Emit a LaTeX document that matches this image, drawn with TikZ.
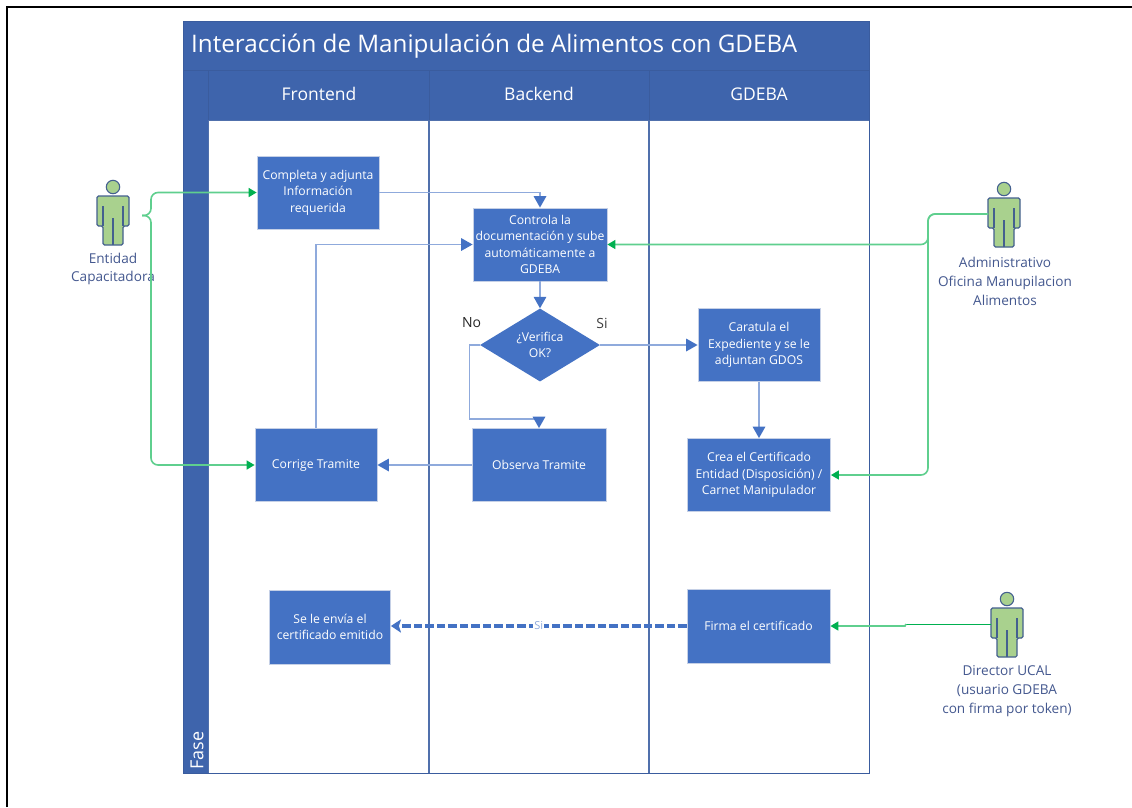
\documentclass[tikz,border=0pt]{standalone}
\usepackage{fontspec}
\setmainfont{Open Sans}
\usetikzlibrary{arrows.meta,shapes.geometric}
\definecolor{hdr}{HTML}{3E64AC}
\definecolor{hdrl}{HTML}{3A5C9E}
\definecolor{lanec}{HTML}{5070AC}
\definecolor{box}{HTML}{4472C4}
\definecolor{boxb}{HTML}{C5D0E6}
\definecolor{flow}{HTML}{8FAADC}
\definecolor{tip}{HTML}{4472C4}
\definecolor{grn}{HTML}{5FCF8E}
\definecolor{grnd}{HTML}{00B050}
\definecolor{act}{HTML}{A9D18E}
\definecolor{actb}{HTML}{44608F}
\definecolor{lbl}{HTML}{44588F}
\tikzset{
 x=1pt,y=-1pt,
 stepbox/.style={draw=boxb,line width=.8pt,fill=box,text=white,align=center,font=\fontsize{12.2}{16.6}\selectfont,inner sep=0pt,minimum width=#1},
 stepbox/.default=120pt,
 band/.style={draw=hdrl,line width=.8pt,fill=hdr},
 flowline/.style={draw=flow,line width=1.7pt,-{Triangle[length=11.5pt,width=12.5pt,color=tip]}},
 greenline/.style={draw=grn,line width=1.6pt,rounded corners=7pt,-{Triangle[length=8pt,width=9pt,color=grnd]}},
 actorlabel/.style={text=lbl,align=center,font=\fontsize{13.6}{18.8}\selectfont,inner sep=0pt},
 person/.pic={
  \draw[draw=actb,fill=act,line width=1.1pt,rounded corners=1.5pt]
    (-16,-18) -- (16,-18) -- (16,12) -- (10,12) -- (10,31) -- (-10,31) -- (-10,12) -- (-16,12) -- cycle;
  \draw[draw=actb,line width=1.1pt] (0,31) -- (0,4) (10,-8) -- (10,12) (-10,-8) -- (-10,12);
  \draw[draw=actb,fill=act,line width=1.1pt] (0,-27) circle (6.7);
 }
}
\begin{document}
\begin{tikzpicture}
\useasboundingbox (0,0) rectangle (1132,807);
\fill[white] (0,0) rectangle (1132,807);
% page frame
\draw[black,line width=1.7pt] (7,807) -- (7,7) -- (1132,7);
% pool
\fill[white] (183.5,21.5) rectangle (869,773);
\path[band] (183.5,21.5) rectangle (869,70);
\path[band] (183.5,70) rectangle (208.5,773);
\path[band] (208.5,70) rectangle (869,120);
\draw[draw=lanec,line width=1pt] (208.5,120) rectangle (869,773);
\draw[lanec,line width=1.1pt] (429,120) -- (429,773) (649,120) -- (649,773);
\draw[hdrl,line width=.8pt] (429,70) -- (429,120) (649,70) -- (649,120);
\draw[hdrl,line width=1pt] (183.5,21.5) rectangle (869,773);
\node[text=white,anchor=west,inner sep=0pt,font=\fontsize{24.2}{26}\selectfont] (title) at (191,46) {Interacción de Manipulación de Alimentos con GDEBA};
\node[text=white,font=\fontsize{17.5}{20}\selectfont,inner sep=0pt] (h1) at (319,94) {Frontend};
\node[text=white,font=\fontsize{17.5}{20}\selectfont,inner sep=0pt] (h2) at (539,94) {Backend};
\node[text=white,font=\fontsize{17.5}{20}\selectfont,inner sep=0pt] (h3) at (759,94) {GDEBA};
\node[text=white,rotate=90,anchor=west,inner sep=0pt,font=\fontsize{18}{20}\selectfont] (fase) at (197,770) {Fase};
% steps
\node[stepbox=122pt,minimum height=73pt] (completa) at (318,192.5) {Completa y adjunta\\Información\\requerida};
\node[stepbox=134pt,minimum height=73pt] (controla) at (540,244.5) {Controla la\\documentación y sube\\automáticamente a\\GDEBA};
\node[diamond,draw=none,fill=box,text=white,align=center,aspect=1.65,inner sep=0pt,minimum width=120pt,minimum height=73pt,font=\fontsize{12.2}{16.6}\selectfont] (verifica) at (540,345) {¿Verifica\\OK?};
\node[stepbox=122pt,minimum height=73pt] (caratula) at (759,345) {Caratula el\\Expediente y se le\\adjuntan GDOS};
\node[stepbox=134pt,minimum height=73pt] (observa) at (539,465) {Observa Tramite};
\node[stepbox=122pt,minimum height=73pt] (corrige) at (316,465) {Corrige Tramite};
\node[stepbox=143pt,minimum height=73pt] (crea) at (759,475) {Crea el Certificado\\Entidad (Disposición) /\\Carnet Manipulador};
\node[stepbox=121pt,minimum height=74pt] (envia) at (330,627) {Se le envía el\\certificado emitido};
\node[stepbox=143pt,minimum height=74pt] (firma) at (758.5,626) {Firma el certificado};
% actors
\path (113,214) pic {person};
\coordinate (a1) at (142,215.5);
\path (1004,216) pic {person};
\coordinate (a2) at (988,214);
\path (1007,626) pic {person};
\coordinate (a3) at (991,624);
\node[actorlabel] (la1) at (113,269) {Entidad\\Capacitadora};
\node[actorlabel] (la2) at (1005,281.5) {Administrativo\\Oficina Manupilacion\\Alimentos};
\node[actorlabel] (la3) at (1007,691) {Director UCAL\\(usuario GDEBA\\con firma por token)};
% flows
\coordinate (c1) at (379,192.5);
\draw[flowline] (c1) -- (controla.north |- c1) -- (controla.north);
\draw[flowline] (corrige.north) -- (corrige.north |- controla.west) -- (controla.west);
\draw[flowline] (controla.south) -- (verifica.north);
\draw[flowline] (verifica.east) -- (caratula.west);
\draw[flowline] (verifica.west) -- (469.5,345) -- (469.5,419) -- (539,419) -- (observa.north);
\draw[flowline] (observa.west) -- (corrige.east);
\draw[flowline] (caratula.south) -- (crea.north);
\draw[draw=box,line width=3.3pt,dash pattern=on 8.5pt off 3pt,-{Stealth[length=10pt,width=13pt,inset=2pt]}] (firma.west) -- node[fill=white,inner sep=1pt,text=flow,font=\fontsize{11}{12}\selectfont] (si3) {Si} (envia.east |- firma.west);
% green
\draw[greenline] (a1) -- (151,215.5) -- (151,192.5) -- (completa.west);
\draw[greenline] (a1) -- (151,215.5) -- (151,465) -- (corrige.west);
\draw[greenline] (a2) -- (928,214) -- (928,244.5) -- (controla.east);
\draw[greenline] (a2) -- (928,214) -- (928,475) -- (crea.east);
\draw[grnd,line width=1pt] (a3) -- (906,624);
\draw[greenline,rounded corners=0pt] (906,624) -- (905,626) -- (firma.east);
% yes / no
\node[inner sep=0pt,font=\fontsize{14}{16}\selectfont,text=black!85] (no) at (471.5,323) {No};
\node[inner sep=0pt,font=\fontsize{14}{16}\selectfont,text=black!75] (si1) at (602,323) {Si};
\end{tikzpicture}
\end{document}
